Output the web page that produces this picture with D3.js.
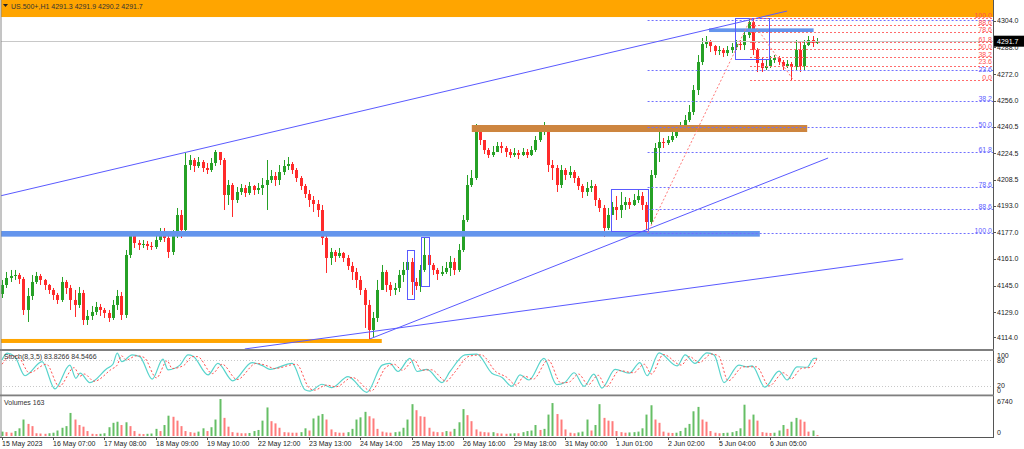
<!DOCTYPE html>
<html>
<head>
<meta charset="utf-8">
<script src="https://cdn.jsdelivr.net/npm/d3@7"></script>
<style>
  html, body { margin: 0; padding: 0; background: #fff; }
  svg { display: block; font-family: "Liberation Sans", Arial, sans-serif; }
</style>
</head>
<body>
<div id="chart"></div>
<script>
// ---- data (2-hour bars) ----
const symbol = "US.500+,H1";
const lastQuote = [4291.3, 4291.9, 4290.2, 4291.7];
const firstOpen = 4140.0;

const closes = [
  4145.4, 4149.6, 4150.8, 4151.4, 4149.0, 4130.4, 4138.8, 4147.2, 4150.8, 4148.4,
  4145.4, 4142.4, 4139.4, 4136.4, 4147.2, 4143.6, 4136.4, 4133.4, 4140.6, 4124.4,
  4126.8, 4129.2, 4132.2, 4130.4, 4128.6, 4125.6, 4133.4, 4138.8, 4127.4, 4163.4,
  4174.8, 4170.6, 4169.4, 4170.0, 4168.8, 4168.2, 4172.4, 4176.0, 4173.6, 4165.2,
  4175.4, 4187.4, 4178.4, 4217.4, 4220.4, 4216.8, 4219.2, 4215.6, 4214.4, 4218.6,
  4225.2, 4220.4, 4199.4, 4205.4, 4196.4, 4201.2, 4203.6, 4200.6, 4204.8, 4202.4,
  4203.6, 4205.4, 4208.4, 4210.8, 4208.4, 4213.2, 4216.8, 4218.0, 4214.4, 4209.6,
  4204.8, 4200.0, 4196.4, 4194.0, 4190.4, 4173.6, 4161.6, 4165.2, 4162.8, 4164.6,
  4161.6, 4156.8, 4153.2, 4148.4, 4142.4, 4133.4, 4118.4, 4125.6, 4142.4, 4153.2,
  4145.4, 4142.4, 4143.6, 4151.4, 4154.4, 4159.2, 4147.2, 4144.8, 4154.4, 4163.4,
  4157.4, 4154.4, 4152.0, 4153.2, 4155.6, 4159.2, 4154.4, 4166.4, 4184.4, 4205.4,
  4209.6, 4240.2, 4232.4, 4226.4, 4223.4, 4225.2, 4228.8, 4227.6, 4225.2, 4223.4,
  4224.6, 4223.4, 4225.2, 4223.4, 4226.4, 4232.4, 4237.2, 4240.8, 4217.4, 4215.6,
  4205.4, 4214.4, 4211.4, 4213.2, 4209.6, 4204.8, 4201.2, 4203.6, 4204.8, 4196.4,
  4191.6, 4179.6, 4187.4, 4192.2, 4190.4, 4193.4, 4195.2, 4193.4, 4196.4, 4198.8,
  4193.4, 4183.2, 4211.4, 4227.6, 4231.2, 4230.6, 4232.4, 4234.8, 4238.4, 4240.8,
  4244.4, 4249.2, 4262.4, 4279.2, 4290.0, 4291.2, 4288.8, 4285.8, 4286.4, 4284.6,
  4286.4, 4288.2, 4290.0, 4289.4, 4295.4, 4303.2, 4286.4, 4278.6, 4275.6, 4276.8,
  4280.4, 4281.6, 4279.2, 4276.8, 4278.0, 4276.2, 4286.4, 4276.8, 4289.4, 4292.4,
  4290.6, 4291.7
];

const highs = [
  4148.4, 4153.2, 4154.4, 4154.4, 4152.6, 4150.2, 4143.6, 4151.4, 4153.2, 4152.0,
  4149.0, 4146.0, 4143.6, 4140.6, 4150.2, 4148.4, 4145.4, 4142.4, 4144.2, 4142.4,
  4130.4, 4132.8, 4135.2, 4134.0, 4131.6, 4130.4, 4136.4, 4142.4, 4141.2, 4166.4,
  4177.2, 4175.4, 4172.4, 4172.4, 4171.8, 4171.2, 4174.8, 4179.6, 4179.6, 4174.8,
  4178.4, 4191.6, 4190.4, 4224.6, 4223.4, 4221.6, 4222.2, 4220.4, 4218.6, 4221.6,
  4226.4, 4225.2, 4221.6, 4208.4, 4206.6, 4204.2, 4206.0, 4205.4, 4207.2, 4205.4,
  4206.6, 4209.6, 4220.4, 4214.4, 4213.2, 4217.4, 4220.4, 4222.2, 4219.2, 4215.6,
  4210.8, 4206.0, 4202.4, 4198.8, 4196.4, 4193.4, 4174.8, 4167.6, 4166.4, 4167.6,
  4165.2, 4163.4, 4159.2, 4155.6, 4150.8, 4143.6, 4136.4, 4129.2, 4148.4, 4157.4,
  4154.4, 4147.2, 4146.6, 4154.4, 4159.2, 4163.4, 4161.6, 4149.6, 4157.4, 4174.2,
  4165.2, 4158.6, 4155.6, 4156.8, 4159.2, 4162.8, 4161.6, 4170.0, 4187.4, 4211.4,
  4214.4, 4242.0, 4241.4, 4232.4, 4227.6, 4228.8, 4231.2, 4231.2, 4228.8, 4227.0,
  4227.6, 4226.4, 4227.6, 4227.0, 4228.8, 4234.8, 4239.6, 4243.2, 4241.4, 4220.4,
  4217.4, 4217.4, 4215.6, 4216.8, 4214.4, 4210.8, 4206.0, 4207.2, 4208.4, 4206.0,
  4197.6, 4193.4, 4191.6, 4195.2, 4198.8, 4201.2, 4198.2, 4197.6, 4200.0, 4202.4,
  4201.2, 4195.2, 4214.4, 4230.6, 4239.6, 4233.6, 4234.8, 4237.8, 4241.4, 4243.2,
  4247.4, 4253.4, 4265.4, 4283.4, 4293.6, 4294.8, 4292.4, 4289.4, 4288.8, 4287.6,
  4288.8, 4290.6, 4292.4, 4292.4, 4298.4, 4305.6, 4305.6, 4287.6, 4281.6, 4280.4,
  4282.8, 4283.4, 4282.8, 4280.4, 4280.4, 4279.2, 4292.4, 4291.2, 4292.4, 4294.8,
  4294.8, 4293.6
];

const lows = [
  4137.6, 4143.6, 4147.2, 4148.4, 4146.0, 4127.4, 4123.2, 4136.4, 4146.0, 4145.4,
  4142.4, 4140.0, 4136.4, 4134.0, 4135.2, 4140.0, 4130.4, 4126.2, 4131.6, 4121.4,
  4121.4, 4124.4, 4127.4, 4126.8, 4125.6, 4123.2, 4124.4, 4130.4, 4124.4, 4125.6,
  4161.6, 4167.6, 4166.4, 4167.6, 4166.4, 4166.4, 4167.0, 4171.2, 4171.2, 4161.6,
  4163.4, 4173.6, 4173.6, 4177.2, 4214.4, 4213.2, 4215.6, 4213.2, 4212.0, 4213.2,
  4216.8, 4217.4, 4190.4, 4193.4, 4186.2, 4194.6, 4199.4, 4198.2, 4199.4, 4199.4,
  4200.0, 4199.4, 4190.4, 4206.6, 4204.8, 4205.4, 4211.4, 4214.4, 4212.0, 4207.2,
  4202.4, 4197.6, 4192.2, 4189.2, 4186.2, 4169.4, 4152.6, 4157.4, 4159.2, 4161.6,
  4159.2, 4154.4, 4148.4, 4143.6, 4139.4, 4119.6, 4112.4, 4114.2, 4123.2, 4142.4,
  4141.2, 4138.8, 4139.4, 4141.2, 4147.2, 4151.4, 4139.4, 4142.4, 4141.2, 4153.2,
  4154.4, 4151.4, 4148.4, 4150.8, 4152.0, 4150.8, 4151.4, 4153.2, 4165.2, 4183.2,
  4204.2, 4208.4, 4229.4, 4224.0, 4221.6, 4222.2, 4225.2, 4224.6, 4222.2, 4221.6,
  4222.2, 4221.0, 4222.8, 4221.6, 4222.8, 4225.2, 4231.2, 4235.4, 4213.2, 4208.4,
  4201.2, 4203.6, 4208.4, 4209.6, 4206.6, 4202.4, 4197.6, 4198.8, 4201.2, 4192.8,
  4189.2, 4174.2, 4178.4, 4187.4, 4184.4, 4185.6, 4190.4, 4191.0, 4192.8, 4194.6,
  4190.4, 4178.4, 4182.0, 4209.6, 4219.2, 4227.6, 4229.4, 4231.2, 4233.6, 4237.2,
  4239.6, 4243.2, 4247.4, 4259.4, 4277.4, 4287.6, 4285.2, 4283.4, 4283.4, 4282.2,
  4282.8, 4284.6, 4286.4, 4286.4, 4286.4, 4293.6, 4283.4, 4273.2, 4273.2, 4274.4,
  4275.6, 4278.6, 4277.4, 4274.4, 4275.6, 4268.4, 4274.4, 4273.2, 4274.4, 4288.8,
  4288.2, 4290.0
];

const volumes = [
  800, 700, 600, 900, 1400, 3000, 2200, 1800, 500, 450,
  400, 500, 600, 1000, 1500, 1800, 4200, 3000, 2000, 1700,
  900, 400, 350, 400, 500, 1600, 2400, 2600, 2000, 2500,
  1800, 900, 400, 350, 400, 450, 1300, 900, 2000, 3700,
  3500, 2800, 1800, 900, 700, 600, 800, 1400, 900, 1600,
  3000, 6740, 3300, 1700, 700, 600, 500, 500, 550, 900,
  1100, 2800, 5200, 2700, 2300, 1500, 700, 650, 600, 600,
  700, 1400, 1000, 3200, 3700, 4000, 3000, 1200, 700, 600,
  600, 700, 1300, 3000, 3400, 4400, 3600, 3200, 1300, 800,
  650, 600, 700, 800, 1500, 3000, 5800, 4700, 3600, 3500,
  1500, 800, 700, 700, 900, 800, 1300, 2500, 4900, 3800,
  2700, 1200, 800, 700, 650, 700, 500, 450, 400, 450,
  500, 500, 700, 900, 1000, 2000, 1100, 1300, 3900, 6000,
  4000, 3000, 1200, 600, 500, 650, 800, 3000, 1000, 2000,
  5800, 3300, 2800, 2700, 900, 700, 600, 650, 700, 800,
  1400, 3900, 5600, 3000, 2400, 800, 600, 550, 600, 900,
  1500, 2200, 4500, 5300, 3000, 2600, 900, 600, 500, 550,
  600, 700, 900, 1400, 5700, 3000, 3900, 2800, 700, 600,
  550, 600, 1000, 2000, 1300, 2600, 3300, 3000, 2600, 800,
  1000, 163
];

// stochastic main (%K) and signal (%D): [bar, value]
const stochK = [
  [0, 80], [1.2, 96], [3, 88], [5.4, 43], [9.4, 76], [12.4, 12], [15.9, 68], [17.3, 37],
  [18.3, 49], [20.6, 27], [24.6, 60], [26, 70], [27, 96], [28.1, 76], [30.5, 92], [32.3, 88],
  [35.2, 35], [37.7, 82], [38.9, 57], [41.7, 68], [43.6, 92], [44.8, 89], [48.3, 45], [50.6, 72],
  [54.1, 31], [58.6, 74], [61.2, 66], [62.8, 58], [68, 72], [71, 10], [72.2, 7], [75, 23],
  [77.3, 15], [81.1, 41], [85.5, 4], [89.1, 68], [90.9, 72], [92.8, 53], [95.6, 84], [97.3, 53],
  [99.6, 58], [103.1, 27], [105, 53], [108.5, 92], [111.3, 94], [114.8, 49], [117.2, 39], [119.5, 18],
  [121.4, 45], [123.5, 33], [127, 84], [130, 22], [131.9, 27], [134.1, 50], [136.4, 18], [138.7, 47],
  [140.6, 14], [143.7, 58], [147, 49], [149.5, 74], [151.2, 43], [154, 97], [158.2, 66], [160.1, 92],
  [162.4, 72], [165.2, 97], [166.9, 92], [169.2, 27], [172.7, 68], [174.6, 64], [175.8, 66], [178.8, 16],
  [182.1, 54], [184, 33], [186.3, 64], [188.7, 63], [190.3, 84], [191, 83.8]
];
const stochD = [
  [0, 70], [2.2, 90], [4, 85], [6.4, 50], [10.4, 70], [13.4, 18], [16.9, 62], [18.3, 42],
  [19.3, 47], [21.6, 30], [25.6, 58], [27, 68], [28, 90], [29.1, 80], [31.5, 90], [33.3, 86],
  [36.2, 38], [38.7, 78], [39.9, 60], [42.7, 68], [44.6, 88], [45.8, 88], [49.3, 48], [51.6, 70],
  [55.1, 34], [59.6, 72], [62.2, 66], [63.8, 60], [69, 70], [72, 14], [73.2, 9], [76, 21],
  [78.3, 17], [82.1, 39], [86.5, 7], [90.1, 64], [91.9, 70], [93.8, 56], [96.6, 80], [98.3, 56],
  [100.6, 57], [104.1, 30], [106, 50], [109.5, 89], [112.3, 92], [115.8, 52], [118.2, 40], [120.5, 21],
  [122.4, 42], [124.5, 35], [128, 80], [131, 26], [132.9, 28], [135.1, 47], [137.4, 22], [139.7, 44],
  [141.6, 17], [144.7, 55], [148, 50], [150.5, 70], [152.2, 47], [155, 93], [159.2, 68], [161.1, 88],
  [163.4, 74], [166.2, 94], [167.9, 90], [170.2, 31], [173.7, 64], [175.6, 64], [176.8, 64], [179.8, 19],
  [183.1, 50], [185, 36], [187.3, 60], [189.7, 63], [191, 84.5]
];
const stochLast = ["83.8266", "84.5466"];

const timeLabels = [
  "15 May 2023", "16 May 07:00", "17 May 08:00", "18 May 09:00", "19 May 10:00", "22 May 12:00",
  "23 May 13:00", "24 May 14:00", "25 May 15:00", "26 May 16:00", "29 May 18:00", "31 May 00:00",
  "1 Jun 01:00", "2 Jun 02:00", "5 Jun 04:00", "6 Jun 05:00"
];
const barsPerLabel = 12;

const priceTicks = [4304.0, 4288.0, 4272.0, 4256.0, 4240.5, 4224.5, 4208.5, 4193.0, 4177.0, 4161.0, 4145.0, 4129.0, 4114.0];
const stochTicks = [100, 80, 20, 0];
const volumeTicks = [6740, 0];

// fibonacci retracements: [bar, price] of the 100 and 0 anchors
const fibLevels = [0, 23.6, 38.2, 50, 61.8, 78.6, 88.6, 100];
const fibBlue = { from: [151.3, 4176.6], to: [175.3, 4304.4] };
const fibRed = { from: [175.3, 4305.4], to: [185.5, 4268.2] };

// trend lines: [bar, price] end points
const trendLines = [
  [[-0.5, 4198.8], [184.0, 4309.8]],
  [[86.2, 4113.0], [193.6, 4221.6]],
  [[56.9, 4107.0], [211.2, 4161.0]]
];

// price bands: [bar from, bar to, price low, price high, colour]
const bands = [
  [-2, 240, 4306.2, 4330, "#ffa500"],
  [-2, 177.6, 4174.4, 4177.8, "#6495ed"],
  [-2, 89.0, 4110.6, 4113.0, "#ffa500"],
  [110.1, 188.7, 4237.2, 4241.4, "#cd853f"],
  [165.7, 190.2, 4297.2, 4299.4, "#6495ed"]
];

// rectangles: [bar from, bar to, price low, price high]
const boxes = [
  [171.8, 179.8, 4281.0, 4305.6],
  [142.7, 151.4, 4177.8, 4203.0],
  [94.9, 96.6, 4137.0, 4166.4],
  [98.2, 100.1, 4144.8, 4174.2]
];

// ---- layout ----
const width = 1024, height = 449;
const plotRight = 993;
const mainPanel = { top: 0, bottom: 349 };
const stochPanel = { top: 351, bottom: 394 };
const volPanel = { top: 396, bottom: 437 };

const svg = d3.select("#chart")
              .append("svg")
              .attr("width", width)
              .attr("height", height);

const x = d3.scaleLinear().domain([0, closes.length - 1]).range([2, 817]);
const y = d3.scaleLinear().domain([4114, 4304]).range([337.3, 20.7]);
const ys = d3.scaleLinear().domain([0, 100]).range([394, 351.5]);
const yv = d3.scaleLinear().domain([0, 6740]).range([436, 399]);

// clip paths per panel
const defs = svg.append("defs");
[["clipMain", mainPanel], ["clipStoch", stochPanel], ["clipVol", volPanel]].forEach(([id, p]) => {
    defs.append("clipPath").attr("id", id)
        .append("rect")
        .attr("x", 1).attr("y", p.top)
        .attr("width", plotRight - 1).attr("height", p.bottom - p.top);
});

const mainG = svg.append("g").attr("clip-path", "url(#clipMain)");

// candles (open = previous close)
const bars = closes.map((c, i) => ({
    i: i,
    o: i === 0 ? firstOpen : closes[i - 1],
    h: highs[i],
    l: lows[i],
    c: c
}));
const upColor = "#26a126", downColor = "#ff2a2a";

mainG.selectAll(".wick")
     .data(bars)
     .enter()
     .append("line")
     .attr("x1", d => Math.round(x(d.i)) + 0.5)
     .attr("x2", d => Math.round(x(d.i)) + 0.5)
     .attr("y1", d => y(Math.max(d.h, d.o, d.c)))
     .attr("y2", d => y(Math.min(d.l, d.o, d.c)))
     .style("stroke", d => d.c >= d.o ? upColor : downColor)
     .style("stroke-width", 1);

mainG.selectAll(".body")
     .data(bars)
     .enter()
     .append("rect")
     .attr("x", d => Math.round(x(d.i)) - 1)
     .attr("width", 3)
     .attr("y", d => y(Math.max(d.o, d.c)))
     .attr("height", d => Math.max(1, Math.abs(y(d.o) - y(d.c))))
     .style("fill", d => d.c >= d.o ? upColor : downColor);

// bid line
mainG.append("line")
     .attr("x1", 0).attr("x2", plotRight)
     .attr("y1", Math.round(y(lastQuote[3])) + 0.5)
     .attr("y2", Math.round(y(lastQuote[3])) + 0.5)
     .style("stroke", "#c8c8c8");

// bands
mainG.selectAll(".band")
     .data(bands)
     .enter()
     .append("rect")
     .attr("x", d => x(d[0]))
     .attr("width", d => x(d[1]) - x(d[0]))
     .attr("y", d => y(d[3]))
     .attr("height", d => y(d[2]) - y(d[3]))
     .style("fill", d => d[4]);

// boxes
mainG.selectAll(".box")
     .data(boxes)
     .enter()
     .append("rect")
     .attr("x", d => Math.round(x(d[0])) + 0.5)
     .attr("width", d => Math.round(x(d[1]) - x(d[0])))
     .attr("y", d => Math.round(y(d[3])) + 0.5)
     .attr("height", d => Math.round(y(d[2]) - y(d[3])))
     .style("fill", "none")
     .style("stroke", "#5a5aff")
     .style("stroke-width", 1);

// trend lines
mainG.selectAll(".trend")
     .data(trendLines)
     .enter()
     .append("line")
     .attr("x1", d => x(d[0][0])).attr("y1", d => y(d[0][1]))
     .attr("x2", d => x(d[1][0])).attr("y2", d => y(d[1][1]))
     .style("stroke", "#5a5aff")
     .style("stroke-width", 1);

// fibonacci grids; labelShift moves a label off a neighbouring grid's label
function drawFib(fib, color, labelColor, hiddenLabels, labelShift) {
    const p100 = fib.from[1], p0 = fib.to[1];
    const startX = x(fib.from[0]);
    // anchor line
    mainG.append("line")
         .attr("x1", x(fib.from[0])).attr("y1", y(fib.from[1]))
         .attr("x2", x(fib.to[0])).attr("y2", y(fib.to[1]))
         .style("stroke", "#ff7a7a")
         .style("stroke-dasharray", "2,2");

    fibLevels.forEach(lv => {
        const yy = Math.round(y(p0 + (p100 - p0) * lv / 100)) + 0.5;
        mainG.append("line")
             .attr("x1", startX).attr("x2", plotRight)
             .attr("y1", yy).attr("y2", yy)
             .style("stroke", color)
             .style("stroke-dasharray", "2,2");
        if (hiddenLabels.includes(lv)) return;
        mainG.append("text")
             .attr("x", plotRight - 1)
             .attr("y", yy - 1 + (labelShift[lv] || 0))
             .attr("text-anchor", "end")
             .text(lv.toFixed(1))
             .style("font-size", "7px")
             .style("fill", labelColor);
    });
}
drawFib(fibBlue, "#7070ff", "#6060ff", [0], { 23.6: 2 });
drawFib(fibRed, "#ff6b6b", "#ff4f4f", [], { 23.6: -1.5 });

// header
svg.append("path")
   .attr("d", "M3,4 L8,4 L5.5,7 Z")
   .style("fill", "#222");
svg.append("text")
   .attr("x", 11)
   .attr("y", 8.5)
   .text(`${symbol}  ${lastQuote.map(v => v.toFixed(1)).join(" ")}`)
   .style("font-size", "7px")
   .style("fill", "#333");

// ---- stochastic ----
const stochG = svg.append("g").attr("clip-path", "url(#clipStoch)");
[80, 20].forEach(v => {
    stochG.append("line")
          .attr("x1", 0).attr("x2", plotRight)
          .attr("y1", Math.round(ys(v)) + 0.5).attr("y2", Math.round(ys(v)) + 0.5)
          .style("stroke", "#c8c8c8")
          .style("stroke-dasharray", "1,2");
});
const stochLine = d3.line()
                    .x(d => x(d[0]))
                    .y(d => ys(d[1]))
                    .curve(d3.curveMonotoneX);
stochG.append("path")
      .attr("d", stochLine(stochK))
      .style("fill", "none")
      .style("stroke", "#58d4cc")
      .style("stroke-width", 1.2);
stochG.append("path")
      .attr("d", stochLine(stochD))
      .style("fill", "none")
      .style("stroke", "#ff5050")
      .style("stroke-width", 1)
      .style("stroke-dasharray", "2,2");

svg.append("text")
   .attr("x", 4).attr("y", 358.5)
   .text(`Stoch(8,3,5) ${stochLast[0]} ${stochLast[1]}`)
   .style("font-size", "7px")
   .style("fill", "#333");

// ---- volumes ----
const volG = svg.append("g").attr("clip-path", "url(#clipVol)");
volG.selectAll(".vol")
    .data(volumes)
    .enter()
    .append("rect")
    .attr("x", (d, i) => Math.round(x(i)) - 0.5)
    .attr("width", 2)
    .attr("y", d => yv(d))
    .attr("height", d => yv(0) - yv(d))
    .style("fill", (d, i) => (i === 0 || d > volumes[i - 1]) ? "#3fae3f" : "#ff5a5a")
    .style("opacity", 0.8);

svg.append("text")
   .attr("x", 4).attr("y", 405)
   .text(`Volumes ${volumes[volumes.length - 1]}`)
   .style("font-size", "7px")
   .style("fill", "#333");

// ---- frames and separators ----
svg.append("line")
   .attr("x1", 1).attr("x2", 1).attr("y1", 0).attr("y2", volPanel.bottom)
   .style("stroke", "#8a8a8a");
svg.append("line")
   .attr("x1", plotRight + 0.5).attr("x2", plotRight + 0.5).attr("y1", 0).attr("y2", volPanel.bottom)
   .style("stroke", "#555");
svg.append("rect")
   .attr("x", 0).attr("y", 349).attr("width", plotRight + 1).attr("height", 2)
   .style("fill", "#7f7f7f");
svg.append("rect")
   .attr("x", 0).attr("y", 394.5).attr("width", plotRight + 1).attr("height", 1.8)
   .style("fill", "#7f7f7f");
svg.append("line")
   .attr("x1", 0).attr("x2", plotRight + 1)
   .attr("y1", volPanel.bottom + 0.5).attr("y2", volPanel.bottom + 0.5)
   .style("stroke", "#555");

// ---- right axes ----
const axisG = svg.append("g").style("font-size", "7px").style("fill", "#222");
priceTicks.forEach(p => {
    const yy = y(p);
    svg.append("line")
       .attr("x1", plotRight).attr("x2", plotRight + 3)
       .attr("y1", Math.round(yy) + 0.5).attr("y2", Math.round(yy) + 0.5)
       .style("stroke", "#555");
    axisG.append("text")
         .attr("x", plotRight + 4)
         .attr("y", yy + 2.5)
         .text(p.toFixed(1));
});

// current price tag
svg.append("rect")
   .attr("x", plotRight + 1).attr("y", y(lastQuote[3]) - 5.5)
   .attr("width", width - plotRight - 1).attr("height", 11)
   .style("fill", "#000");
svg.append("text")
   .attr("x", plotRight + 4).attr("y", y(lastQuote[3]) + 2.5)
   .text(lastQuote[3].toFixed(1))
   .style("font-size", "7px")
   .style("fill", "#fff");

stochTicks.forEach(v => {
    const yy = Math.min(Math.max(ys(v), stochPanel.top + 4), stochPanel.bottom - 3.5);
    axisG.append("text")
         .attr("x", plotRight + 4)
         .attr("y", yy + 2.5)
         .text(v);
});
volumeTicks.forEach(v => {
    const yy = Math.min(Math.max(yv(v), volPanel.top + 5), volPanel.bottom - 5);
    axisG.append("text")
         .attr("x", plotRight + 4)
         .attr("y", yy + 2.5)
         .text(v);
});

// ---- time axis ----
timeLabels.forEach((t, k) => {
    const xx = Math.round(x(k * barsPerLabel)) + 0.5;
    svg.append("line")
       .attr("x1", xx).attr("x2", xx)
       .attr("y1", volPanel.bottom).attr("y2", volPanel.bottom + 3)
       .style("stroke", "#555");
    svg.append("text")
       .attr("x", xx - 0.5)
       .attr("y", 446)
       .text(t)
       .style("font-size", "7px")
       .style("fill", "#222");
});
</script>
</body>
</html>
